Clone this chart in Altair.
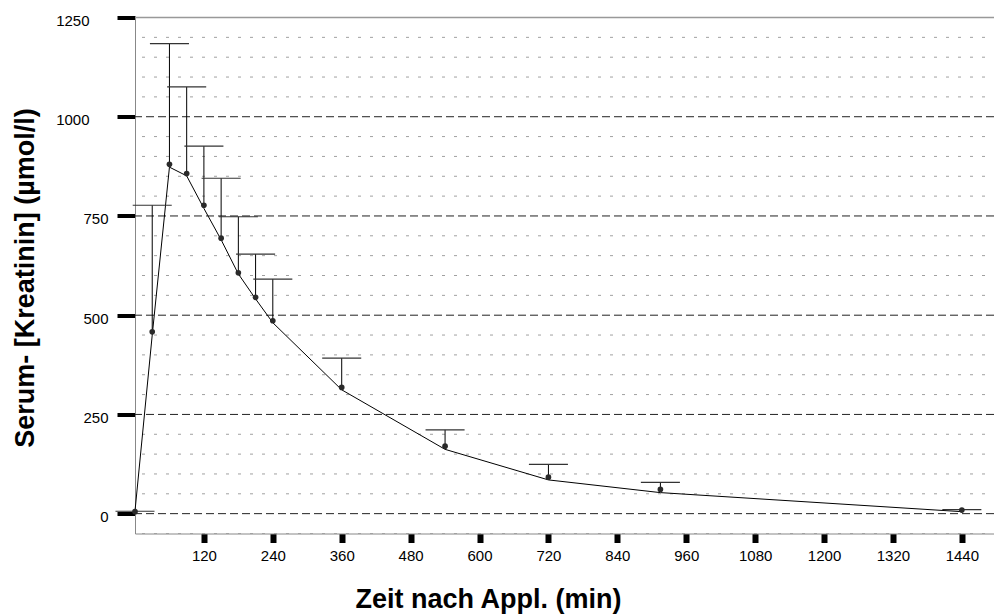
import altair as alt
import pandas as pd

# Data
time_min = [0, 30, 60, 90, 120, 150, 180, 210, 240, 360, 540, 720, 915, 1440]
mean_val = [5, 458, 880, 857, 777, 694, 607, 545, 486, 318, 170, 92, 61, 9]
upper_val = [6, 777, 1184, 1075, 926, 845, 748, 654, 591, 392, 211, 124, 79, 10]
fit_val = [7, 450, 873, 851, 769, 690, 604, 541, 481, 312, 162, 85, 53, 5]

x_ticks = [120, 240, 360, 480, 600, 720, 840, 960, 1080, 1200, 1320, 1440]
y_ticks = [0, 250, 500, 750, 1000, 1250]
minor_grid = [-50, 50, 100, 150, 200, 300, 350, 400, 450, 550, 600, 650, 700,
              800, 850, 900, 950, 1050, 1100, 1150, 1200]
major_grid = [0, 250, 500, 750, 1000, 1250]
top_border = [1250]

CAP_HALF = 34  # minutes

df = pd.DataFrame({"t": time_min, "mean": mean_val, "upper": upper_val, "fit": fit_val})
df_minor = pd.DataFrame({"g": minor_grid})
df_major = pd.DataFrame({"g": major_grid})
df_top = pd.DataFrame({"g": top_border})

FONT = "Liberation Sans"

x_scale = alt.Scale(domain=[0, 1496], nice=False, zero=False)
y_scale = alt.Scale(domain=[-50, 1250], nice=False, zero=False)

x_axis = alt.Axis(
    values=x_ticks,
    format="d",
    title="Zeit nach Appl. (min)",
    grid=False,
    domain=True,
    domainColor="#888888",
    domainWidth=1,
    tickColor="#000000",
    tickWidth=6,
    tickSize=9,
    labelFont=FONT,
    labelFontSize=15,
    labelColor="#000000",
    labelPadding=6,
    titleFont=FONT,
    titleFontSize=27,
    titleFontWeight="bold",
    titleColor="#000000",
    titleAlign="center",
    titleBaseline="alphabetic",
    titleX=353,
    titleY=74,
)

y_axis = alt.Axis(
    values=y_ticks,
    format="d",
    title="Serum- [Kreatinin] (µmol/l)",
    grid=False,
    domain=True,
    domainColor="#888888",
    domainWidth=1,
    tickColor="#000000",
    tickWidth=4,
    tickSize=18,
    labelFont=FONT,
    labelFontSize=15,
    labelColor="#000000",
    labelAlign="right",
    labelBaseline="middle",
    labelOffset=3,
    labelPadding={"condition": {"test": "datum.value >= 1000", "value": 28}, "value": 9},
    titleFont=FONT,
    titleFontSize=27,
    titleFontWeight="bold",
    titleColor="#000000",
    titleAngle=-90,
    titleAlign="center",
    titleBaseline="middle",
    titleX=-110,
    titleY=260,
)

minor = alt.Chart(df_minor).mark_rule(
    color="#a0a0a0", strokeWidth=1, strokeDash=[3, 9], strokeDashOffset=3
).encode(y=alt.Y("g:Q", scale=y_scale, axis=y_axis))

major = alt.Chart(df_major).mark_rule(
    color="#222222", strokeWidth=1, strokeDash=[8, 4]
).encode(y=alt.Y("g:Q", scale=y_scale, axis=y_axis))

top = alt.Chart(df_top).mark_rule(
    color="#999999", strokeWidth=1.5
).encode(y=alt.Y("g:Q", scale=y_scale, axis=y_axis))

base = alt.Chart(df)

fit_line = base.mark_line(color="#000000", strokeWidth=1).encode(
    x=alt.X("t:Q", scale=x_scale, axis=x_axis),
    y=alt.Y("fit:Q", scale=y_scale, axis=y_axis),
)

err_v = base.mark_rule(color="#000000", strokeWidth=1).encode(
    x=alt.X("t:Q", scale=x_scale, axis=x_axis),
    y=alt.Y("mean:Q", scale=y_scale, axis=y_axis),
    y2="upper:Q",
)

caps = base.transform_calculate(
    xl=f"datum.t - {CAP_HALF}", xr=f"datum.t + {CAP_HALF}"
).mark_rule(color="#333333", strokeWidth=1.2).encode(
    x=alt.X("xl:Q", scale=x_scale, axis=x_axis),
    x2="xr:Q",
    y=alt.Y("upper:Q", scale=y_scale, axis=y_axis),
)

points = base.mark_circle(color="#2a2a2a", opacity=1, size=32).encode(
    x=alt.X("t:Q", scale=x_scale, axis=x_axis),
    y=alt.Y("mean:Q", scale=y_scale, axis=y_axis),
)

chart = alt.layer(minor, major, top, fit_line, err_v, caps, points).properties(
    width=859,
    height=516,
    autosize=alt.AutoSizeParams(type="none"),
    padding={"left": 135, "top": 17.5, "right": 0, "bottom": 81.5},
    background="white",
).configure_view(stroke=None)

chart.save("out.html", embed_options={"renderer": "svg", "actions": False})
